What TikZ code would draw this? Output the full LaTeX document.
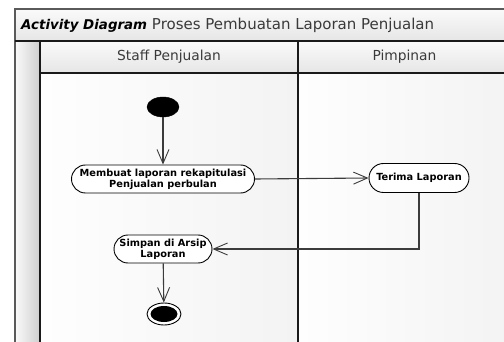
\documentclass[tikz,border=0pt]{standalone}
\usepackage{fontspec}
\setmainfont{DejaVu Sans}
\usetikzlibrary{arrows.meta,shapes.geometric,shapes.misc}
\definecolor{frameline}{HTML}{5A5A5A}
\definecolor{laneline}{HTML}{1A1A1A}
\definecolor{flowline}{HTML}{3C3C3C}
\definecolor{bandtop}{HTML}{FAFAFA}
\definecolor{bandbot}{HTML}{E6E6E6}
\definecolor{bodylight}{HTML}{FEFEFE}
\definecolor{bodydark}{HTML}{F3F3F3}
\definecolor{labeltext}{HTML}{3A3A3A}
\begin{document}
\begin{tikzpicture}[x=1pt,y=-1pt,
  band/.style={top color=bandtop,bottom color=bandbot,draw=none},
  action/.style={draw=black,line width=0.9pt,fill=white,rounded rectangle,
    align=center,inner sep=2pt,
    font=\fontsize{9.8}{10.8}\selectfont\bfseries},
  flow/.style={draw=flowline,line width=1.1pt,
    -{Straight Barb[length=14pt,width=12pt,line width=0.9pt]}},
  lanetitle/.style={font=\fontsize{13.8}{16}\selectfont,text=labeltext}]
\useasboundingbox (0,0) rectangle (504,342);
% swimlane backgrounds
\shade[left color=bodylight,right color=bodydark] (40,73) rectangle (298,350);
\shade[left color=bodylight,right color=bodydark] (298,73) rectangle (512,350);
\shade[left color=bandtop,right color=bandbot!90!black] (15,41) rectangle (40,350);
\shade[band] (15,9) rectangle (512,41);
\shade[band] (40,41) rectangle (512,73);
% frame and lane borders
\draw[frameline,line width=1.8pt] (15,350) -- (15,9) -- (512,9);
\draw[laneline,line width=1.3pt] (15,41) -- (512,41);
\draw[laneline,line width=1.3pt] (40,41) -- (40,350);
\draw[laneline,line width=1.3pt] (40,73) -- (512,73);
\draw[laneline,line width=1.3pt] (298,41) -- (298,350);
% title and lane captions
\node[anchor=west,inner sep=0pt,font=\fontsize{15}{16}\selectfont,text=labeltext] (title) at (21,25)
  {{\color{black}\fontsize{13.4}{16}\selectfont\bfseries\itshape Activity Diagram} Proses Pembuatan Laporan Penjualan};
\node[lanetitle] (laneA) at (169,57) {Staff Penjualan};
\node[lanetitle] (laneB) at (404.5,57) {Pimpinan};
% activity nodes
\node[draw=black,fill=black,ellipse,minimum width=32pt,minimum height=20pt,inner sep=0pt] (start) at (163,107) {};
\node[action,minimum width=187pt,minimum height=28pt] (buat) at (163,179)
  {Membuat laporan rekapitulasi\\Penjualan perbulan};
\node[action,minimum width=104pt,minimum height=29pt] (terima) at (419,178) {Terima Laporan};
\node[action,minimum width=102pt,minimum height=28pt] (simpan) at (163,249) {Simpan di Arsip\\Laporan};
\node[draw=black,line width=0.9pt,fill=white,ellipse,minimum width=34pt,minimum height=22pt,inner sep=0pt] (stop) at (164,314) {};
\node[fill=black,ellipse,minimum width=27pt,minimum height=16pt,inner sep=0pt] (stopdot) at (stop.center) {};
% control flow
\draw[flow] (start) -- (buat);
\draw[flow] (buat.east) -- (terima.west);
\draw[flow] (terima.south) |- (simpan.east);
\draw[flow] (simpan) -- (stop);
\end{tikzpicture}
\end{document}
